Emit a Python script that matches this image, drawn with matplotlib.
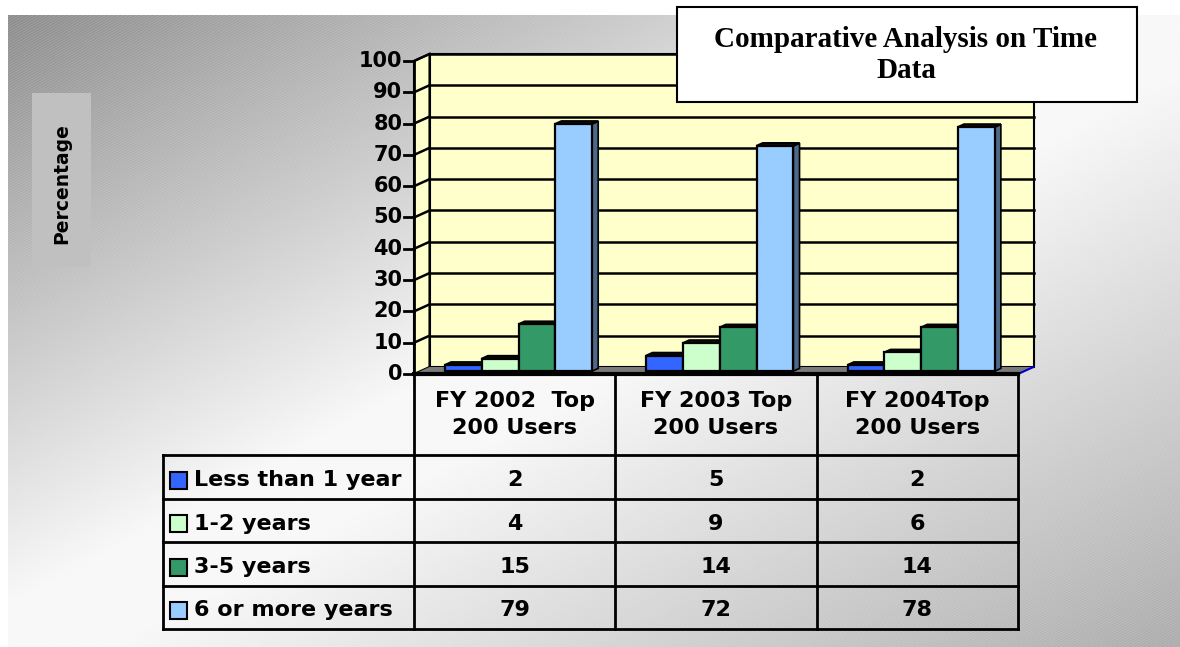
import numpy as np
import matplotlib
matplotlib.use("Agg")
import matplotlib.pyplot as plt
from matplotlib.patches import Rectangle, Polygon
from matplotlib.collections import LineCollection

# ---------------- data ----------------
categories = ["FY 2002  Top\n200 Users", "FY 2003 Top\n200 Users", "FY 2004Top\n200 Users"]
series_names = ["Less than 1 year", "1-2 years", "3-5 years", "6 or more years"]
less_than_1 = [2, 5, 2]
one_to_two = [4, 9, 6]
three_to_five = [15, 14, 14]
six_or_more = [79, 72, 78]
yticks = [0, 10, 20, 30, 40, 50, 60, 70, 80, 90, 100]
title = "Comparative Analysis on Time\nData"
ylabel = "Percentage"

series_values = [less_than_1, one_to_two, three_to_five, six_or_more]
colors = ["#3366ff", "#ccffcc", "#339966", "#99ccff"]
side_colors = ["#1a3399", "#6d8f6d", "#1d5a3c", "#4f6888"]

W, H = 1180, 647
fig = plt.figure(figsize=(W / 100, H / 100), dpi=100)

def fx(x):
    return x / W

def fy(y):
    return 1 - y / H

# ---------------- background ----------------
bg = fig.add_axes([0, 0, 1, 1], zorder=-10)
bg.set_xlim(0, W)
bg.set_ylim(H, 0)
bg.axis("off")
xs = np.linspace(0, 1, 400)
ys = np.linspace(0, 1, 220)
X, Y = np.meshgrid(xs, ys)
S = X + Y
V = np.where(S < 1, 1 - 0.45 * (1 - S), 1 - 0.33 * (S - 1))
V = np.clip(V, 0, 0.97)
bg.imshow(V, cmap="gray", vmin=0, vmax=1, extent=(8, W, H, 15), aspect="auto",
          interpolation="bilinear")
slope = 0.6
run = (H - 15) / slope
segs = [[(c, H), (c + run, 15)] for c in np.arange(-run - 20, W + 20, 4.5)]
lc = LineCollection(segs, colors="white", linewidths=0.5, alpha=0.18)
lc.set_clip_path(Rectangle((8, 15), W - 8, H - 15, transform=bg.transData))
bg.add_collection(lc)

# ---------------- main 3D-like axes ----------------
ax_left, ax_right, ax_bot, ax_top = 414, 1018, 374, 61
ax = fig.add_axes([fx(ax_left), fy(ax_bot), fx(ax_right - ax_left), (ax_bot - ax_top) / H])
ax.set_xlim(0, 3)
ax.set_ylim(0, 100)
ax.axis("off")

ux = (ax_right - ax_left) / 3.0      # px per category unit
uy = (ax_bot - ax_top) / 100.0       # px per value unit
dx = 15.5 / ux
dy = 7.0 / uy

# side wall
ax.add_patch(Polygon([(0, 0), (dx, dy), (dx, 100 + dy), (0, 100)], closed=True,
                     fc="#ffffcc", ec="black", lw=1.5, clip_on=False, zorder=1))
# back wall
ax.add_patch(Rectangle((dx, dy), 3, 100, fc="#ffffcc", ec="black", lw=1.5,
                       clip_on=False, zorder=1))
# gridlines
for v in yticks[1:]:
    ax.plot([dx, 3 + dx], [v + dy, v + dy], color="black", lw=1.8, clip_on=False, zorder=2)
    ax.plot([0, dx], [v, v + dy], color="black", lw=1.8, clip_on=False, zorder=2)
# floor
ax.add_patch(Polygon([(0, 0), (3, 0), (3 + dx, dy), (dx, dy)], closed=True,
                     fc="#7a7a7a", ec="none", clip_on=False, zorder=2))
ax.plot([3, 3 + dx], [0, dy], color="#0000cc", lw=1.5, clip_on=False, zorder=2)
# y axis
ax.plot([0, 0], [0, 100], color="black", lw=2, clip_on=False, zorder=3)
tick_len = 10 / ux
for v in yticks:
    ax.plot([-tick_len, 0], [v, v], color="black", lw=2, clip_on=False, zorder=3)
    ax.text(-tick_len - 1.5 / ux, v, str(v), ha="right", va="center", fontsize=15,
            fontweight="bold", family="DejaVu Sans")

# bars
bar_w = 36.75 / ux
start = 31 / ux
f = 0.4
d = 0.4
for i in range(len(categories)):
    for j, vals in enumerate(series_values):
        v = vals[i]
        x0 = i + start + j * bar_w
        y0 = f * dy
        z = 4 + j
        ax.add_patch(Polygon([(x0 + bar_w, y0), (x0 + bar_w + d * dx, y0 + d * dy),
                              (x0 + bar_w + d * dx, y0 + v + d * dy), (x0 + bar_w, y0 + v)],
                             closed=True, fc=side_colors[j], ec="black", lw=1.2,
                             clip_on=False, zorder=z))
        ax.add_patch(Polygon([(x0, y0 + v), (x0 + bar_w, y0 + v),
                              (x0 + bar_w + d * dx, y0 + v + d * dy), (x0 + d * dx, y0 + v + d * dy)],
                             closed=True, fc="#111111", ec="black", lw=1.5,
                             clip_on=False, zorder=z))
        ax.add_patch(Rectangle((x0, y0), bar_w, v, fc=colors[j], ec="black", lw=1.6,
                               clip_on=False, zorder=z))

# ---------------- data table ----------------
t_left, t_bot = 163, 629
tab = fig.add_axes([fx(t_left), fy(t_bot), fx(ax_right - t_left), (t_bot - ax_bot) / H])
lead = (ax_left - t_left) / ux
tab.set_xlim(-lead, 3)
tab.set_ylim(t_bot - ax_bot, 0)
tab.axis("off")
rows = [0, 81, 125, 168, 212, 255]
for xv in range(len(categories) + 1):
    tab.plot([xv, xv], [0, rows[-1]], color="black", lw=2, clip_on=False)
tab.plot([-lead, -lead], [rows[1], rows[-1]], color="black", lw=2, clip_on=False)
for r in rows[1:]:
    tab.plot([-lead, 3], [r, r], color="black", lw=2, clip_on=False)
tab.plot([0, 3], [0, 0], color="black", lw=3, clip_on=False)

for i, cat in enumerate(categories):
    tab.text(i + 0.5, (rows[0] + rows[1]) / 2, cat, ha="center", va="center",
             fontsize=16, fontweight="bold", family="DejaVu Sans", linespacing=1.45)

sq = 17
for j, name in enumerate(series_names):
    yc = (rows[j + 1] + rows[j + 2]) / 2 + 3
    tab.add_patch(Rectangle((-lead + 7 / ux, yc - sq / 2), sq / ux, sq, fc=colors[j],
                            ec="black", lw=1.5, clip_on=False))
    tab.text(-lead + 31 / ux, yc, name, ha="left", va="center", fontsize=16,
             fontweight="bold", family="DejaVu Sans")
    for i in range(len(categories)):
        tab.text(i + 0.5, yc, str(series_values[j][i]), ha="center", va="center",
                 fontsize=16, fontweight="bold", family="DejaVu Sans")

# ---------------- title box ----------------
fig.add_artist(Rectangle((fx(677), fy(102)), fx(1137 - 677), (102 - 7) / H,
                         transform=fig.transFigure, fc="white", ec="black", lw=1.5, zorder=20))
fig.text(fx(906), fy(55), title, ha="center", va="center", fontsize=21,
         fontweight="bold", family="Liberation Serif", linespacing=1.2, zorder=21)

# ---------------- y label box ----------------
fig.add_artist(Rectangle((fx(32), fy(267)), fx(91 - 32), (267 - 93) / H,
                         transform=fig.transFigure, fc="#c0c0c0", ec="none", zorder=5))
fig.text(fx(61.5), fy(184), ylabel, rotation=90, ha="center", va="center", fontsize=13.5,
         fontweight="bold", family="DejaVu Sans", zorder=6)

fig.savefig("out.png", dpi=100)
